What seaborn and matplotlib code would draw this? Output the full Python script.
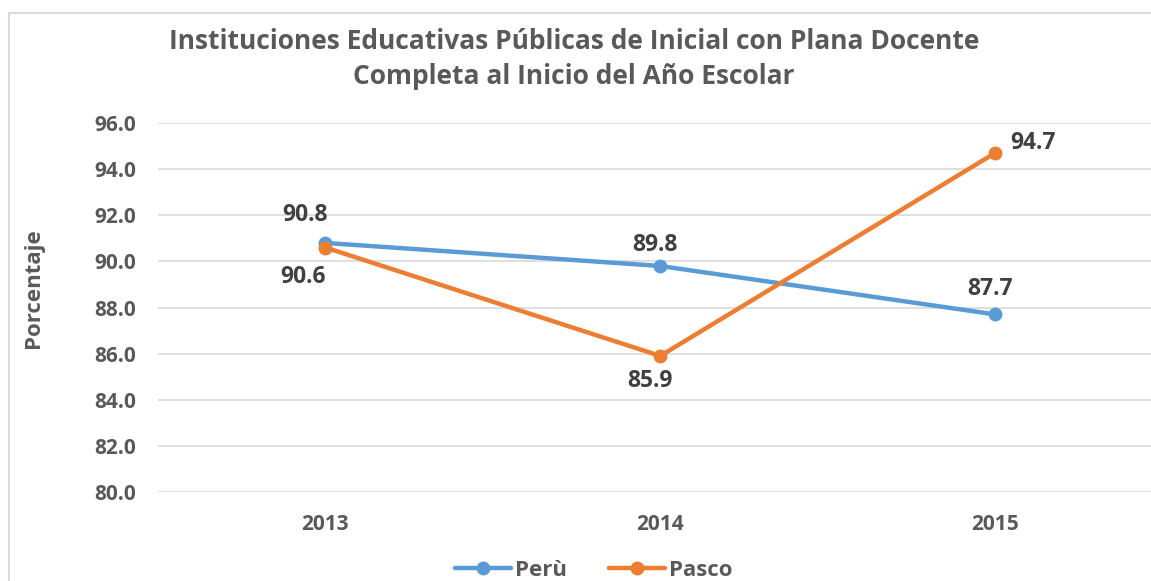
import matplotlib
matplotlib.use("Agg")
import matplotlib.pyplot as plt
import seaborn as sns
import pandas as pd
from matplotlib.patches import Rectangle

years = ["2013", "2014", "2015"]
peru = [90.8, 89.8, 87.7]
pasco = [90.6, 85.9, 94.7]
series_names = ["Perù", "Pasco"]
yticks = [80.0, 82.0, 84.0, 86.0, 88.0, 90.0, 92.0, 94.0, 96.0]
title = "Instituciones Educativas Públicas de Inicial con Plana Docente\nCompleta al Inicio del Año Escolar"
ylabel = "Porcentaje"

df = pd.DataFrame({
    "Año": years * 2,
    "Valor": peru + pasco,
    "Serie": [series_names[0]] * 3 + [series_names[1]] * 3,
})

sns.set_theme(style="white")
plt.rcParams["font.family"] = ["Open Sans", "DejaVu Sans"]

W, H = 1151, 581
fig = plt.figure(figsize=(W / 100, H / 100), dpi=100)
fig.patch.set_facecolor("white")

# chart border (extends beyond right/bottom edges like the reference crop)
fig.patches.append(Rectangle((9 / W, -0.1), 1.2, 1 - 13 / H + 0.1, transform=fig.transFigure,
                             fill=False, edgecolor="#d9d9d9", linewidth=1.5, zorder=0))

left, right = 158 / W, 1162.5 / W
bottom, top = 1 - 492 / H, 1 - 123 / H
ax = fig.add_axes([left, bottom, right - left, top - bottom])

palette = {series_names[0]: "#5B9BD5", series_names[1]: "#ED7D31"}
sns.lineplot(data=df, x="Año", y="Valor", hue="Serie", palette=palette, ax=ax,
             marker="o", markersize=10, linewidth=3.2, markeredgewidth=0, sort=False)

ax.set_xlim(-0.5, 2.5)
ax.set_ylim(80, 96)
ax.set_yticks(yticks)
ax.set_yticklabels([f"{v:.1f}" for v in yticks])
ax.yaxis.grid(True, color="#d9d9d9", linewidth=1.2)
ax.xaxis.grid(False)
ax.set_axisbelow(True)
for s in ax.spines.values():
    s.set_visible(False)
ax.tick_params(axis="y", length=0, pad=16, labelsize=15, labelcolor="#595959")
ax.tick_params(axis="x", length=0, pad=16, labelsize=15, labelcolor="#595959")
for lbl in ax.get_xticklabels() + ax.get_yticklabels():
    lbl.set_fontweight("bold")
ax.set_xlabel("")
ax.set_ylabel("")

fig.text(34 / W, 1 - 288 / H, ylabel, rotation=90, ha="center", va="center",
         fontsize=16, fontweight="bold", color="#595959")

fig.text(574 / W, 1 - 59 / H, title, ha="center", va="center", fontsize=19,
         fontweight="bold", color="#595959", linespacing=1.42)

# data labels (pixel offsets)
offsets = {
    series_names[0]: [(-20, 28), (-5, 21), (-5, 25)],
    series_names[1]: [(-22, -29), (-10, -25), (38, 10)],
}
for name, vals in zip(series_names, [peru, pasco]):
    for i, v in enumerate(vals):
        dx, dy = offsets[name][i]
        ax.annotate(f"{v:.1f}", (i, v), xytext=(dx * 0.72, dy * 0.72),
                    textcoords="offset points", ha="center", va="center",
                    fontsize=16.5, fontweight="bold", color="#404040")

leg = ax.legend(loc="center", bbox_to_anchor=(594 / W, 1 - 570 / H),
                bbox_transform=fig.transFigure, ncol=2, frameon=False,
                fontsize=16, handlelength=2.5, columnspacing=1.9, handletextpad=0.2)
for t in leg.get_texts():
    t.set_fontweight("bold")
    t.set_color("#595959")

fig.savefig("out.png", dpi=100)
